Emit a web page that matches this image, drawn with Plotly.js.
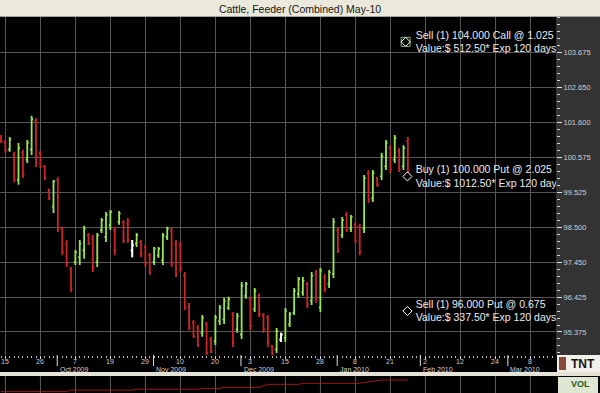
<!DOCTYPE html>
<html><head><meta charset="utf-8">
<script src="https://cdn.plot.ly/plotly-3.0.1.min.js"></script>
<style>html,body{margin:0;padding:0;background:#000;}#chart{width:600px;height:393px;}</style>
</head><body><div id="chart"></div>
<script>
// Trading-day calendar of the axis (bars occupy the first entries)
const days = [
"2009-09-14","2009-09-15","2009-09-16","2009-09-17","2009-09-18","2009-09-21","2009-09-22","2009-09-23","2009-09-24","2009-09-25","2009-09-28","2009-09-29","2009-09-30",
"2009-10-01","2009-10-02","2009-10-05","2009-10-06","2009-10-07","2009-10-08","2009-10-09","2009-10-12","2009-10-13","2009-10-14","2009-10-15","2009-10-16","2009-10-19","2009-10-20","2009-10-21","2009-10-22","2009-10-23","2009-10-26","2009-10-27","2009-10-28","2009-10-29","2009-10-30",
"2009-11-02","2009-11-03","2009-11-04","2009-11-05","2009-11-06","2009-11-09","2009-11-10","2009-11-11","2009-11-12","2009-11-13","2009-11-16","2009-11-17","2009-11-18","2009-11-19","2009-11-20","2009-11-23","2009-11-24","2009-11-25","2009-11-27","2009-11-30",
"2009-12-01","2009-12-02","2009-12-03","2009-12-04","2009-12-07","2009-12-08","2009-12-09","2009-12-10","2009-12-11","2009-12-14","2009-12-15","2009-12-16","2009-12-17","2009-12-18","2009-12-21","2009-12-22","2009-12-23","2009-12-24","2009-12-28","2009-12-29","2009-12-30","2009-12-31",
"2010-01-04","2010-01-05","2010-01-06","2010-01-07","2010-01-08","2010-01-11","2010-01-12","2010-01-13","2010-01-14","2010-01-15","2010-01-19","2010-01-20","2010-01-21","2010-01-22","2010-01-25","2010-01-26","2010-01-27","2010-01-28","2010-01-29",
"2010-02-01","2010-02-02","2010-02-03","2010-02-04","2010-02-05","2010-02-08","2010-02-09","2010-02-10","2010-02-11","2010-02-12","2010-02-15","2010-02-16","2010-02-17","2010-02-18","2010-02-19","2010-02-22","2010-02-23","2010-02-24","2010-02-25","2010-02-26",
"2010-03-01","2010-03-02","2010-03-03","2010-03-04","2010-03-05","2010-03-08","2010-03-09","2010-03-10","2010-03-11","2010-03-12","2010-03-15","2010-03-16"
];

const high = [101.23,101.08,101.17,100.73,100.99,100.79,101.08,101.80,101.74,100.76,
100.34,99.63,99.89,99.98,98.50,98.11,97.31,97.81,98.11,98.53,
98.32,98.26,98.32,98.76,98.94,99.00,98.50,98.97,98.70,98.76,
98.11,98.32,98.11,97.96,97.72,97.90,97.90,98.32,98.50,98.47,
98.11,98.05,97.16,96.24,95.73,95.58,95.88,95.67,95.23,95.88,
96.18,96.39,96.42,95.97,95.94,96.86,96.86,96.42,96.68,96.53,
95.94,95.88,94.99,95.49,95.35,96.09,95.97,96.68,97.01,97.01,
96.86,97.16,97.22,97.28,97.10,97.22,98.76,98.47,98.79,98.94,
98.85,98.65,98.59,100.04,100.19,100.19,99.98,100.70,101.08,100.93,
101.23,100.85,100.93,101.17];
const low = [100.99,100.70,100.73,99.83,99.75,99.95,100.40,100.64,100.28,100.25,
99.89,99.30,98.91,98.35,97.66,97.31,96.56,97.37,97.37,97.55,
97.96,97.16,97.31,98.32,98.05,98.41,97.66,98.56,98.02,98.02,
97.60,97.90,97.60,97.31,97.07,97.37,97.58,97.37,98.11,97.31,
97.01,97.16,96.03,95.43,95.20,94.93,95.23,94.63,94.75,94.99,
95.58,95.61,96.03,94.93,95.35,95.17,96.36,95.43,95.97,95.82,
95.35,94.93,94.63,94.75,95.08,95.08,95.52,95.88,96.39,96.45,
96.09,96.18,96.24,95.97,96.56,96.68,96.98,97.72,98.17,98.35,
98.35,98.02,97.66,98.32,99.21,99.24,99.69,99.89,100.19,100.10,
100.40,100.13,100.19,100.10];
const open = [101.20,101.00,100.80,100.65,99.90,100.70,100.50,100.80,101.65,100.70,
100.30,99.60,99.10,99.90,98.45,98.00,97.25,97.45,97.60,97.80,
98.25,98.15,97.45,98.40,98.20,98.55,98.40,98.65,98.65,98.60,
97.80,98.00,98.05,97.90,97.65,97.45,97.65,97.50,98.20,98.40,
98.00,97.95,97.05,96.15,95.65,95.50,95.35,95.60,95.15,95.10,
95.70,95.75,96.10,95.90,95.45,95.30,96.45,96.35,96.05,96.45,
95.85,95.80,94.95,94.85,95.15,95.20,95.60,95.95,96.50,96.55,
96.80,96.30,97.10,96.10,97.00,96.80,97.10,98.40,98.25,98.85,
98.45,98.55,98.50,98.45,100.10,99.35,99.95,100.00,100.30,100.85,
100.50,100.75,100.30,101.05];
const close = [101.05,100.78,101.10,99.90,100.85,100.05,101.00,101.70,100.40,100.30,
99.95,99.35,99.85,98.45,97.75,97.40,96.65,97.75,98.00,98.45,
98.00,97.30,98.25,98.70,98.85,98.95,97.80,98.90,98.10,98.10,
97.95,98.25,97.70,97.40,97.15,97.85,97.85,98.25,98.45,97.40,
97.10,97.25,96.10,95.50,95.25,95.00,95.80,94.75,94.80,95.80,
96.10,96.30,96.35,95.05,95.85,96.75,96.80,95.55,96.60,95.90,
95.45,95.05,94.70,95.40,95.30,96.00,95.90,96.60,96.95,96.90,
96.20,97.05,96.35,97.20,96.65,97.15,98.65,97.80,98.70,98.40,
98.80,98.10,97.75,99.95,99.30,100.10,99.75,100.60,101.00,100.20,
101.15,100.20,100.85,100.15];
const whiteBars = ["2009-10-26","2009-12-14"];

// open interest line in lower pane (relative units)
const openInterest = [8,8,8,8,8,8,8,8,8,8,8,8,8,8,8,8,
17,17,17,17,17,17,17,17,17,17,17,17,17,17,17,
22,22,22,22,22,22,22,22,22,22,22,22,22,22,22,
27,27,27,27,27,
33,33,33,33,33,33,33,33,33,
42,
51,51,51,51,51,51,51,51,
57,57,57,57,57,57,57,57,57,57,57,57,57,57,
62,66,70,73,
76,76,76,76,76,76,76];

const tickDates = ["2009-09-15","2009-09-25","2009-10-07","2009-10-19","2009-10-29","2009-11-10","2009-11-20","2009-12-03","2009-12-15","2009-12-28","2010-01-08","2010-01-21","2010-02-02","2010-02-12","2010-02-24","2010-03-08"];
const tickText = ["15","26","7","19","29","10","20","3","15","28","8","21","2","12","24","8"];
const monthStarts = ["2009-10-01","2009-11-02","2009-12-01","2010-01-04","2010-02-01","2010-03-01"];
const monthText = ["Oct 2009","Nov 2009","Dec 2009","Jan 2010","Feb 2010","Mar 2010"];

const yTickVals = [95.375,96.4125,97.45,98.4875,99.525,100.5625,101.6,102.6375,103.675];
const yTickText = ["95.375","96.425","97.450","98.500","99.525","100.575","101.600","102.650","103.675"];

const optStrike = [104, 100, 96];
const optLine1 = ["Sell (1) 104.000 Call @ 1.025","Buy (1) 100.000 Put @ 2.025","Sell (1) 96.000 Put @ 0.675"];
const optLine2 = ["Value:$ 512.50* Exp 120 days","Value:$ 1012.50* Exp 120 days","Value:$ 337.50* Exp 120 days"];
const optBoxed = [true,false,false];

// ---- build ----
const xIdx = high.map((_, i) => i);
const lastIdx = xIdx[xIdx.length - 1];
const wIdx = whiteBars.map(d => days.indexOf(d));
const tickIdx = tickDates.map(d => days.indexOf(d));

const FONT = "Liberation Sans, Arial, sans-serif";
const traces = [
  {type:'ohlc', x:xIdx, open:open, high:high, low:low, close:close, text:days.slice(0, high.length),
   increasing:{line:{color:'#98e456', width:1.8}}, decreasing:{line:{color:'#c8262a', width:1.8}},
   tickwidth:0.35, hoverinfo:'skip', showlegend:false, xaxis:'x', yaxis:'y'},
  {type:'ohlc', x:wIdx, open:wIdx.map(i=>open[i]), high:wIdx.map(i=>high[i]), low:wIdx.map(i=>low[i]), close:wIdx.map(i=>close[i]),
   increasing:{line:{color:'#ffffff', width:1.8}}, decreasing:{line:{color:'#ffffff', width:1.8}},
   tickwidth:0.35, hoverinfo:'skip', showlegend:false, xaxis:'x', yaxis:'y'},
  {type:'scatter', mode:'markers', x:optStrike.filter((_,i)=>optBoxed[i]).map(()=>lastIdx-0.5),
   y:optStrike.filter((_,i)=>optBoxed[i]),
   marker:{symbol:'square-open', size:9, color:'#86b486', line:{width:1}}, hoverinfo:'skip', showlegend:false},
  {type:'scatter', mode:'markers', x:optStrike.map((_,i)=>optBoxed[i]?lastIdx-0.5:lastIdx-0.1), y:optStrike,
   marker:{symbol:'diamond-open', size:7, color:'#ffffff', line:{width:1}}, hoverinfo:'skip', showlegend:false},
  {type:'scatter', mode:'text', x:optStrike.map(()=>lastIdx+1.8), y:optStrike.map(s=>s-0.03),
   text:optLine1.map((t,i)=>t+'<br>'+optLine2[i]), textposition:'middle right',
   textfont:{family:FONT, size:10.5, color:'#ececec'}, cliponaxis:true, hoverinfo:'skip', showlegend:false},
  {type:'scatter', mode:'lines', x:xIdx, y:openInterest, xaxis:'x', yaxis:'y2',
   line:{color:'#a01818', width:1}, hoverinfo:'skip', showlegend:false}
];

const W = 600, H = 393, T = 17, R = 44;
const plotH = H - T;
const pxToPaperY = py => (H - py) / plotH;
const pxToPaperX = px => px / (W - R);
const priceBottom = pxToPaperY(355);
const volTop = pxToPaperY(376);

const shapes = [
  // title bar
  {type:'rect', xref:'paper', yref:'paper', x0:0, x1:pxToPaperX(W), y0:1, y1:pxToPaperY(0), fillcolor:'#ebe9dc', line:{width:0}, layer:'below'},
  {type:'line', xref:'paper', yref:'paper', x0:0, x1:pxToPaperX(W), y0:pxToPaperY(16.5), y1:pxToPaperY(16.5), line:{color:'#a8a69a', width:1}, layer:'below'},
  // right price-scale panel
  {type:'rect', xref:'paper', yref:'paper', x0:1, x1:pxToPaperX(W), y0:priceBottom, y1:1, fillcolor:'#333333', line:{width:0}, layer:'below'},
  // separator above the lower pane
  {type:'rect', xref:'paper', yref:'paper', x0:0, x1:pxToPaperX(W), y0:volTop, y1:pxToPaperY(372), fillcolor:'#e4e2d6', line:{width:0}, layer:'below'},
  // logo box
  {type:'rect', xref:'paper', yref:'paper', x0:pxToPaperX(557), x1:pxToPaperX(W), y0:pxToPaperY(372), y1:priceBottom, fillcolor:'#f2f0ea', line:{width:0}, layer:'below'},
  {type:'rect', xref:'paper', yref:'paper', x0:pxToPaperX(559), x1:pxToPaperX(566), y0:pxToPaperY(370), y1:pxToPaperY(357), fillcolor:'#8a4a3a', line:{width:0}, layer:'below'},
  // VOL box
  {type:'rect', xref:'paper', yref:'paper', x0:pxToPaperX(558), x1:pxToPaperX(598), y0:0, y1:pxToPaperY(377), fillcolor:'#dfe6d2', line:{width:0}, layer:'below'}
];
monthStarts.forEach(d => {
  const i = days.indexOf(d) - 0.15;
  shapes.push({type:'line', xref:'x', yref:'paper', x0:i, x1:i, y0:pxToPaperY(366), y1:priceBottom, line:{color:'#dddddd', width:1}});
});
// vertical grid continued in the lower pane
tickIdx.forEach(i => {
  shapes.push({type:'line', xref:'x', yref:'paper', x0:i, x1:i, y0:0, y1:volTop, line:{color:'#3c3c3c', width:1}, layer:'below'});
});

const annotations = [];
tickIdx.forEach((i, k) => {
  annotations.push({xref:'x', yref:'paper', x:i, y:pxToPaperY(361.5), xanchor:'center', yanchor:'middle',
    text:tickText[k], showarrow:false, font:{family:FONT, size:7, color:'#d0d0d0'}});
});
monthStarts.forEach((d, k) => {
  annotations.push({xref:'x', yref:'paper', x:days.indexOf(d), y:pxToPaperY(369.3), xanchor:'left', yanchor:'middle', xshift:0,
    text:monthText[k], showarrow:false, font:{family:FONT, size:7, color:'#d0d0d0'}});
});
annotations.push({xref:'paper', yref:'paper', x:pxToPaperX(583), y:pxToPaperY(364), xanchor:'center', yanchor:'middle',
  text:'<b>TNT</b>', showarrow:false, font:{family:FONT, size:12, color:'#111111'}});
annotations.push({xref:'paper', yref:'paper', x:pxToPaperX(580), y:pxToPaperY(384), xanchor:'center', yanchor:'middle',
  text:'<b>VOL</b>', showarrow:false, font:{family:FONT, size:9, color:'#1f5a1f'}});

const layout = {
  width:W, height:H,
  margin:{l:0, r:R, t:T, b:0, pad:0},
  paper_bgcolor:'#000000', plot_bgcolor:'#000000',
  title:{text:'Cattle, Feeder (Combined) May-10', x:0.5, xref:'container', xanchor:'center',
         y:1 - 9/H, yref:'container', yanchor:'middle', font:{family:FONT, size:10.5, color:'#141414'}},
  showlegend:false,
  xaxis:{type:'linear', range:[-0.2286, 126.86], anchor:'y', automargin:false,
    tickmode:'array', tickvals:tickIdx, ticktext:tickText, showticklabels:false,
    ticks:'outside', ticklen:3, tickwidth:1, tickcolor:'#dddddd',
    showgrid:true, gridcolor:'#575757', gridwidth:1, zeroline:false, showline:false,
    minor:{tickmode:'linear', tick0:0, dtick:1, ticks:'outside', ticklen:2, tickwidth:1, tickcolor:'#bbbbbb', showgrid:false},
    rangeslider:{visible:false}, fixedrange:true},
  yaxis:{domain:[priceBottom, 1], range:[94.691, 104.739], side:'right', anchor:'x', automargin:false,
    tickmode:'array', tickvals:yTickVals, ticktext:yTickText,
    ticks:'outside', ticklen:5, tickwidth:1, tickcolor:'#e0e0e0',
    tickfont:{family:FONT, size:7.5, color:'#d0d0d0'},
    showgrid:true, gridcolor:'#575757', gridwidth:1, zeroline:false, showline:false,
    minor:{tickmode:'linear', tick0:95.375, dtick:0.2075, ticks:'outside', ticklen:3, tickwidth:1, tickcolor:'#d0d0d0', showgrid:false},
    fixedrange:true},
  yaxis2:{domain:[0, volTop], range:[0, 100], anchor:'x', showgrid:false, zeroline:false, showticklabels:false, ticks:'', showline:false, fixedrange:true},
  shapes:shapes, annotations:annotations
};

Plotly.newPlot('chart', traces, layout, {displayModeBar:false, staticPlot:true});
</script></body></html>
